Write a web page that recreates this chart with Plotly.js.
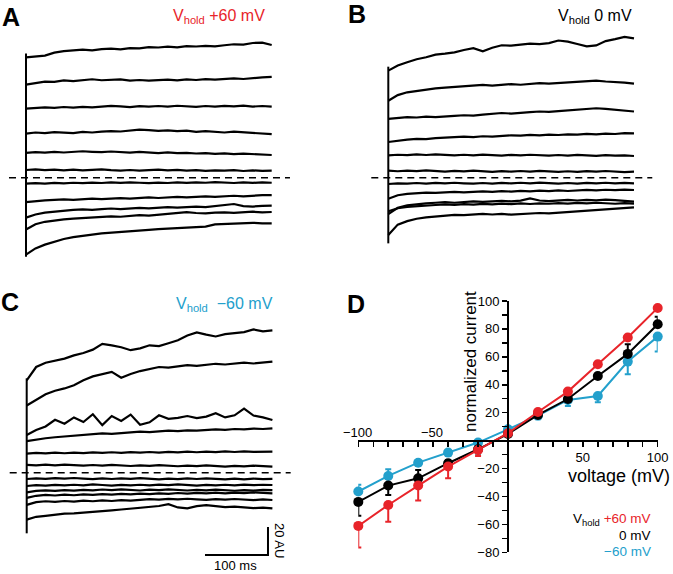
<!DOCTYPE html>
<html><head><meta charset="utf-8">
<script src="https://cdn.plot.ly/plotly-3.0.1.min.js"></script>
<style>html,body{margin:0;padding:0;background:#fff}#plot{width:673px;height:574px}</style>
</head><body><div id="plot"></div>
<script>
// ---------- DATA ----------
// time points (ms) for current traces
const timeMs = [0,15,30,45,60,75,90,105,120,135,150,165,180,195,210,225,240,255,270,285,300,315,330,345,360,375,390];

// Panel A (Vhold +60 mV) traces, AU
const tracesA = [
 [86,86.8,87.2,89.3,90.4,90.9,91.5,91.0,91.9,92.2,91.7,92.6,92.4,93.3,93.0,93.6,93.1,94.0,93.7,94.2,93.8,94.6,95.3,95.0,96.2,96.5,94.8],
 [66.5,67.8,68.6,68.4,69.5,69.0,69.8,70.3,69.6,69.9,70.2,69.4,69.8,69.3,69.9,70.1,69.5,70.2,69.8,70.4,70.0,70.6,70.9,70.5,71.3,71.6,72.0],
 [49.3,49.8,50.3,49.9,50.5,50.0,50.6,50.2,50.8,51.3,51.0,50.4,51.1,50.7,51.2,50.8,51.4,50.9,50.6,51.2,50.7,51.3,50.9,51.5,50.8,51.2,50.7],
 [31.5,32.3,31.8,32.6,32.2,31.9,32.7,32.3,32.9,33.3,33.0,33.6,34.4,34.0,33.5,33.8,33.2,33.6,32.8,33.2,32.7,32.3,32.9,32.5,32.0,31.8,31.1],
 [17.8,18.2,17.9,18.4,18.0,18.6,18.9,18.5,18.2,18.7,18.3,17.9,18.4,18.0,17.6,18.1,17.5,17.8,17.3,17.6,17.0,17.4,16.9,17.2,16.7,16.5,16.2],
 [5.5,5.9,5.4,5.8,5.3,5.7,5.2,5.6,5.9,5.4,5.1,5.5,5.0,5.4,5.8,5.3,5.6,5.1,5.4,4.9,5.3,5.0,5.4,4.8,5.2,4.9,5.0],
 [-4.3,-3.9,-4.2,-3.7,-4.0,-3.6,-3.9,-3.5,-3.8,-3.4,-3.7,-3.3,-3.6,-3.9,-3.5,-3.8,-3.4,-3.7,-3.3,-3.6,-3.2,-3.5,-3.8,-3.4,-3.7,-3.3,-3.6],
 [-17.5,-16.6,-16.2,-15.8,-15.5,-15.8,-15.2,-14.9,-15.3,-14.8,-14.6,-14.9,-14.4,-14.1,-14.5,-14.0,-13.7,-14.1,-13.6,-13.3,-13.7,-13.2,-12.9,-13.3,-12.8,-12.5,-12.4],
 [-28.5,-26.3,-25.0,-24.2,-23.4,-23.0,-22.6,-23.0,-22.4,-22.0,-22.4,-21.8,-21.5,-21.9,-21.3,-21.0,-21.4,-20.9,-20.6,-21.0,-20.4,-19.5,-18.8,-20.3,-20.6,-20.1,-20.0],
 [-37.0,-33.2,-31.5,-30.4,-29.8,-29.3,-28.9,-28.4,-28.0,-27.6,-27.9,-27.2,-26.8,-27.1,-26.4,-26.0,-25.3,-24.6,-25.2,-25.5,-25.0,-24.7,-25.1,-24.6,-24.3,-24.8,-24.5],
 [-55.0,-50.5,-47.8,-45.6,-43.8,-42.5,-41.4,-40.6,-39.8,-39.2,-38.7,-38.1,-37.6,-37.3,-36.8,-36.4,-36.0,-35.6,-35.3,-34.9,-33.4,-33.1,-32.5,-32.0,-32.2,-32.6,-32.6]
];
const onsetA = [88.8, -56.4];

// Panel B (Vhold 0 mV)
const tracesB = [
 [76.5,80.2,82.5,84.6,86.0,87.9,88.6,89.5,91.2,92.5,90.3,92.8,94.6,94.3,95.1,95.8,95.4,96.1,98.0,97.2,95.5,93.8,94.5,97.6,99.0,100.6,99.5],
 [55.0,59.0,61.0,62.0,63.0,63.8,64.4,64.8,65.5,65.9,66.3,65.8,66.5,66.9,66.4,67.1,67.5,67.2,67.6,68.0,68.4,69.0,69.3,68.7,68.5,67.9,67.2],
 [42.0,42.8,43.3,43.0,43.6,43.2,43.9,44.2,44.6,44.3,45.0,45.6,46.2,45.8,46.5,46.9,47.3,47.0,47.6,48.1,48.6,49.2,49.6,49.1,48.4,47.8,47.3],
 [25.5,26.6,27.2,27.8,27.5,28.3,28.7,28.9,29.3,29.0,29.6,29.3,29.9,30.3,30.0,30.6,30.2,30.8,30.5,31.0,30.7,31.3,30.9,31.5,31.2,31.8,31.7],
 [16.0,16.4,16.1,16.6,16.2,16.7,16.3,15.9,16.4,16.0,16.5,16.1,15.8,16.3,15.9,16.4,16.0,15.7,16.2,15.8,16.3,15.9,15.6,16.1,15.7,15.9,15.5],
 [5.0,4.6,5.1,4.7,5.2,4.8,4.4,4.9,4.5,5.0,4.6,4.2,4.7,4.3,4.8,4.4,4.9,4.5,4.1,4.6,4.2,4.7,4.3,4.8,4.4,4.0,4.3],
 [-4.5,-4.0,-4.3,-3.8,-4.2,-3.7,-4.1,-3.6,-4.0,-4.3,-3.8,-4.2,-3.7,-4.1,-3.6,-4.0,-3.5,-3.9,-4.3,-3.8,-4.2,-3.7,-4.1,-3.6,-4.0,-3.7,-4.0],
 [-15.0,-12.5,-11.6,-11.0,-10.6,-10.9,-10.4,-10.1,-10.5,-10.0,-9.7,-10.1,-9.6,-9.9,-9.4,-9.8,-9.3,-9.6,-9.1,-9.5,-9.0,-8.7,-9.1,-8.6,-8.9,-8.5,-8.8],
 [-26.0,-21.5,-19.8,-18.9,-18.3,-17.9,-17.5,-17.9,-17.3,-16.9,-17.3,-16.8,-16.5,-16.9,-16.4,-14.8,-16.3,-16.7,-16.2,-15.9,-16.3,-15.8,-16.2,-15.7,-16.0,-16.4,-17.1],
 [-24.0,-21.8,-20.9,-20.3,-19.8,-19.5,-19.1,-19.4,-18.9,-19.2,-18.7,-19.0,-18.5,-18.9,-18.4,-18.8,-18.3,-18.6,-18.1,-18.5,-18.0,-18.4,-17.9,-18.3,-18.6,-18.2,-18.5],
 [-41.0,-33.5,-31.0,-29.3,-28.4,-27.6,-27.0,-26.5,-26.8,-26.2,-25.9,-26.3,-25.8,-26.4,-26.0,-25.6,-25.2,-25.5,-25.0,-24.6,-24.2,-23.7,-23.3,-22.8,-22.2,-21.5,-21.2]
];
const onsetB = [79.3, -46.9];

// Panel C (Vhold -60 mV)
const tracesC = [
 [66.0,75.5,78.5,80.2,81.5,83.8,85.5,87.9,92.0,91.0,89.6,87.5,88.8,91.0,90.4,92.5,94.6,98.0,100.2,98.6,97.3,99.0,99.6,100.4,102.3,101.0,101.6],
 [48.0,52.0,56.0,58.5,60.2,62.5,66.0,68.8,70.3,72.0,67.8,70.5,72.6,74.0,75.5,75.0,76.2,76.9,76.3,77.2,77.8,77.3,78.2,78.6,78.0,78.9,79.3],
 [27.0,30.5,33.0,37.8,35.0,39.5,36.2,41.8,34.0,40.5,37.0,41.5,34.2,36.0,41.0,38.5,39.2,40.5,39.0,40.1,42.5,39.5,41.0,45.8,40.8,39.5,37.6],
 [22.5,23.8,24.6,25.3,25.9,26.5,27.0,27.6,28.1,27.8,28.4,28.9,29.3,29.0,29.6,30.0,29.7,30.3,30.0,30.6,30.9,30.6,31.2,30.9,31.5,31.2,31.7],
 [13.6,14.1,13.8,14.3,13.9,14.4,14.0,14.5,14.1,14.6,14.2,14.7,14.3,14.8,14.4,14.9,14.5,15.0,14.6,15.1,14.7,15.2,14.8,15.3,14.9,15.2,15.0],
 [5.6,5.2,5.7,5.3,5.8,5.4,5.0,5.5,5.1,5.6,5.2,4.8,5.3,4.9,5.4,5.0,4.6,5.1,4.7,5.2,4.8,4.4,4.9,4.5,5.0,4.6,4.3],
 [-4.5,-4.0,-4.4,-3.9,-4.3,-3.8,-4.2,-4.6,-4.1,-4.5,-4.0,-4.4,-3.9,-4.3,-4.7,-4.2,-4.6,-4.1,-4.5,-4.0,-4.4,-4.8,-4.3,-4.7,-4.2,-4.6,-4.4],
 [-9.5,-8.9,-9.3,-8.7,-9.1,-8.6,-9.0,-8.4,-8.8,-9.2,-8.7,-9.1,-8.6,-9.0,-8.5,-8.9,-8.4,-8.8,-9.2,-8.7,-9.1,-8.6,-9.0,-8.5,-8.9,-8.6,-8.8],
 [-14.0,-13.0,-12.6,-13.0,-12.4,-12.8,-12.2,-12.6,-12.0,-12.4,-11.9,-12.3,-12.7,-12.1,-12.5,-11.9,-12.3,-12.7,-12.2,-12.6,-12.1,-12.5,-12.9,-12.4,-12.8,-12.3,-12.4],
 [-18.0,-16.5,-15.9,-16.3,-15.7,-16.1,-15.5,-15.9,-15.3,-15.7,-15.1,-15.5,-14.9,-15.3,-14.7,-15.1,-14.5,-14.9,-14.4,-14.8,-14.3,-14.7,-14.2,-14.6,-14.1,-14.5,-14.7],
 [-23.0,-21.0,-20.4,-20.8,-20.2,-20.6,-20.0,-20.4,-19.8,-20.2,-19.6,-20.0,-19.4,-18.9,-19.3,-18.7,-19.1,-18.6,-19.0,-19.4,-18.9,-19.3,-18.8,-19.2,-19.6,-19.1,-19.5],
 [-33.5,-31.5,-30.8,-29.9,-29.3,-29.0,-28.6,-28.2,-27.5,-26.9,-26.3,-25.7,-25.2,-24.6,-23.8,-22.5,-24.8,-25.5,-23.9,-23.2,-24.0,-24.6,-24.2,-25.0,-25.3,-24.9,-25.5]
];
const onsetC = [67.4, -43.3];
const baselineSpan = [-27, 419];       // ms, dashed zero line
const scaleBarMs = [283, 383];         // 100 ms
const scaleBarAU = [-58.8, -38.8];     // 20 AU

// Panel D: I-V relation
const voltage = [-100,-80,-60,-40,-20,0,20,40,60,80,100];
const ivPlus60  = [-61.1,-46.1,-32.2,-18.6,-6.7,5.3,20.5,35.1,54.7,73.8,95.0];
const ivZero    = [-43.9,-32.2,-27.0,-16.2,-6.2,4.8,18.4,29.8,46.3,62.1,83.3];
const ivMinus60 = [-36.5,-25.3,-15.8,-8.6,-1.4,8.1,17.9,29.1,32.0,56.6,74.5];
const errPlus60Up   = [0,0,0,0,0,0,1.5,1,1,1,1];
const errPlus60Down = [15.5,12,10.7,8.4,4.4,2,0,0,0,0,0];
const errZeroUp     = [0,0,6,2.4,0,0,0,0,2,7,5.5];
const errZeroDown   = [10,6.7,0,0,3,0,0,0,0,0,0];
const errMinus60Up  = [4.8,4.8,1.5,0,0,0,0,0,0,0,0];
const errMinus60Down= [0,0,0,0,0,0,2.6,4.3,4.5,9,10.7];
const xTickVals = [-100,-90,-80,-70,-60,-50,-40,-30,-20,-10,0,10,20,30,40,50,60,70,80,90,100];
const yTickVals = [-80,-70,-60,-50,-40,-30,-20,-10,0,10,20,30,40,50,60,70,80,90,100];

// ---------- LAYOUT HELPERS ----------
const W = 673, H = 574;
const RED = '#e8242a', BLUE = '#23a0cc';
const PX_PER_MS = 0.63, PX_PER_AU = 1.4;
function frame(box, ox, oy) {
  return {
    x: {domain:[box.x0/W, box.x1/W], range:[(box.x0-ox)/PX_PER_MS, (box.x1-ox)/PX_PER_MS], visible:false, fixedrange:true},
    y: {domain:[1-box.y1/H, 1-box.y0/H], range:[(oy-box.y1)/PX_PER_AU, (oy-box.y0)/PX_PER_AU], visible:false, fixedrange:true}
  };
}
const fA = frame({x0:0,x1:300,y0:28,y1:270}, 26, 177.7);
const fB = frame({x0:340,x1:672,y0:28,y1:270}, 388.3, 177.7);
const fC = frame({x0:0,x1:335,y0:318,y1:572}, 26.7, 472.7);

const data = [];
function addPanel(traces, onset, xa, ya) {
  traces.forEach(tr => data.push({x:timeMs, y:tr, xaxis:xa, yaxis:ya, mode:'lines',
    line:{color:'#000', width:2.2}, hoverinfo:'skip', showlegend:false}));
  data.push({x:[0,0], y:onset, xaxis:xa, yaxis:ya, mode:'lines', line:{color:'#000', width:2}, hoverinfo:'skip', showlegend:false});
  data.push({x:baselineSpan, y:[0,0], xaxis:xa, yaxis:ya, mode:'lines', line:{color:'#000', width:1.5, dash:'7px,5px'}, hoverinfo:'skip', showlegend:false});
}
addPanel(tracesA, onsetA, 'x', 'y');
addPanel(tracesB, onsetB, 'x2', 'y2');
addPanel(tracesC, onsetC, 'x3', 'y3');
data.push({x:[scaleBarMs[0], scaleBarMs[1], scaleBarMs[1]], y:[scaleBarAU[0], scaleBarAU[0], scaleBarAU[1]],
  xaxis:'x3', yaxis:'y3', mode:'lines', line:{color:'#000', width:2}, hoverinfo:'skip', showlegend:false});

function ivTrace(y, up, down, color) {
  return {x:voltage, y:y, xaxis:'x4', yaxis:'y4', mode:'lines+markers', cliponaxis:false,
    line:{color:color, width:2}, marker:{color:color, size:10},
    error_y:{type:'data', symmetric:false, array:up, arrayminus:down, color:color, thickness:2, width:3},
    showlegend:false, hoverinfo:'skip'};
}
data.push(ivTrace(ivMinus60, errMinus60Up, errMinus60Down, BLUE));
data.push(ivTrace(ivZero, errZeroUp, errZeroDown, '#000'));
data.push(ivTrace(ivPlus60, errPlus60Up, errPlus60Down, RED));

const FONT = 'Liberation Sans, Arial, Helvetica, sans-serif';
function ann(px, py, text, size, color, extra) {
  return Object.assign({x:px/W, y:1-py/H, xref:'paper', yref:'paper', text:text, showarrow:false,
    font:{family:FONT, size:size, color:color||'#000'}, xanchor:'center', yanchor:'middle'}, extra||{});
}
const annotations = [
  ann(11, 16.5, '<b>A</b>', 25),
  ann(356.5, 14.5, '<b>B</b>', 25),
  ann(10, 302.5, '<b>C</b>', 25),
  ann(356, 304, '<b>D</b>', 25),
  ann(219, 17, 'V<sub>hold</sub> +60 mV', 16, RED),
  ann(595, 17, 'V<sub>hold</sub> 0 mV', 16, '#000'),
  ann(224.5, 304, 'V<sub>hold</sub>  −60 mV', 16, BLUE),
  ann(236, 565, '100 ms', 13),
  ann(280, 540, '20 AU', 13, '#000', {textangle:90}),
  ann(470, 362, 'normalized current', 17, '#000', {textangle:-90}),
  ann(619, 476, 'voltage (mV)', 18),
  ann(357, 432, '−100', 13),
  ann(432, 432, '−50', 13),
  ann(653, 519, 'V<sub>hold</sub> <span style="color:'+RED+'">+60 mV</span>', 13.5, '#000', {xanchor:'right'}),
  ann(653, 535, '0 mV', 13.5, '#000', {xanchor:'right'}),
  ann(653, 551, '−60 mV', 13.5, BLUE, {xanchor:'right'})
];

const layout = {
  width:W, height:H, margin:{l:0,r:0,t:0,b:0}, paper_bgcolor:'#fff', plot_bgcolor:'rgba(0,0,0,0)',
  showlegend:false, font:{family:FONT, color:'#000'},
  xaxis:fA.x, yaxis:fA.y, xaxis2:fB.x, yaxis2:fB.y, xaxis3:fC.x, yaxis3:fC.y,
  xaxis4:{domain:[358.3/W, 657.7/W], range:[-100,100], anchor:'free', position:1-440.6/H, side:'bottom',
    showline:true, linecolor:'#000', linewidth:2, ticks:'outside', ticklen:5, tickwidth:1.5, tickcolor:'#000',
    tickvals:xTickVals, ticktext:xTickVals.map(v => (v===50||v===100) ? String(v) : ''),
    showgrid:false, zeroline:false, tickfont:{family:FONT, size:13, color:'#000'}, fixedrange:true},
  yaxis4:{domain:[1-552.3/H, 1-301/H], range:[-80,100], anchor:'free', position:508/W, side:'left',
    showline:true, linecolor:'#000', linewidth:2, ticks:'outside', ticklen:5, tickwidth:1.5, tickcolor:'#000',
    tickvals:yTickVals, ticktext:yTickVals.map(v => (v%20===0 && v!==0) ? (v<0 ? '−'+Math.abs(v) : String(v)) : ''),
    showgrid:false, zeroline:false, tickfont:{family:FONT, size:13, color:'#000'}, fixedrange:true},
  annotations:annotations
};
Plotly.newPlot('plot', data, layout, {staticPlot:true, displayModeBar:false});
</script></body></html>
